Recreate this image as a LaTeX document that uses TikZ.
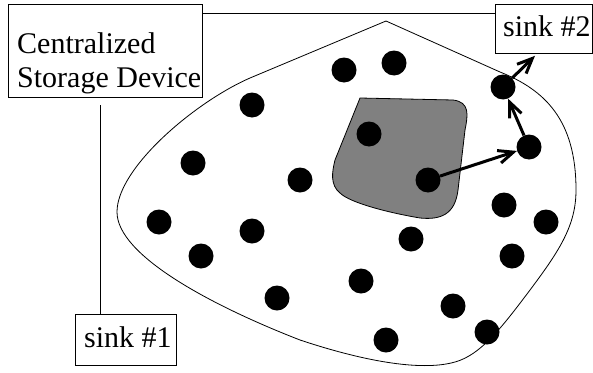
\documentclass[tikz,border=0pt]{standalone}
\usepackage{fontspec}
\setmainfont{Liberation Serif}
\newfontfamily\timesfont{Liberation Serif}
\usetikzlibrary{arrows.meta,calc}
\begin{document}
\begin{tikzpicture}[x=1pt,y=-1pt,
  dot/.style={circle,fill=black,minimum size=25pt,inner sep=0pt},
  boxnode/.style={draw,line width=0.8pt,inner sep=0pt,anchor=north west},
  lbl/.style={font=\timesfont\fontsize{30}{34}\selectfont,inner sep=0pt,anchor=base west},
  flow/.style={line width=3pt,-{Straight Barb[length=15pt,width=13pt,line width=3pt]}},
  wire/.style={line width=1pt}]
\useasboundingbox (0,0) rectangle (593,372);
% region outline
\draw[line width=0.8pt] (386,21) -- (250,78) .. controls (195,102) and (117,168) .. (117,212)
  .. controls (117,255) and (210,305) .. (300,340)
  .. controls (360,360) and (420,372) .. (455,362)
  .. controls (480,355) and (500,330) .. (530,290)
  .. controls (560,250) and (576,225) .. (576,190)
  .. controls (576,120) and (545,90) .. (500,72) -- cycle;
% gray area
\draw[line width=0.8pt,fill={rgb,255:red,128;green,128;blue,128}]
  (360,98) -- (453,100) .. controls (470,102) and (468,115) .. (465,130)
  -- (458,190) .. controls (455,215) and (440,220) .. (420,218)
  .. controls (390,213) and (350,203) .. (340,193)
  .. controls (330,185) and (332,172) .. (335,160) -- cycle;
% boxes
\node[boxnode,minimum width=194pt,minimum height=93pt] (cs) at (8,4) {};
\node[lbl] (cs1) at (17,53) {Centralized};
\node[lbl] (cs2) at (17,87) {Storage Device};
\node[boxnode,minimum width=97pt,minimum height=49pt] (sink2) at (495,4) {};
\node[lbl] (s2) at (503,36) {sink \#2};
\node[boxnode,minimum width=101pt,minimum height=51pt] (sink1) at (75,314) {};
\node[lbl] (s1) at (84,347) {sink \#1};
% wires
\draw[wire] ([yshift=-9pt]cs.north east) -- ([yshift=-9pt]cs.north east -| sink2.west);
\coordinate (v) at (100,105);
\draw[wire] (v) -- (v |- sink1.north);
% dots
\foreach \n/\x/\y in {1/252/105,2/193/163,3/300/180,4/344/70,5/394/63,6/369/134,7/428/180,
  8/503/87,9/529/147,10/159/222,11/201/256,12/252/231,13/277/298,14/504/205,15/546/222,
  16/512/256,17/411/239,18/361/281,19/453/306,20/487/332,21/386/340}
  \node[dot] (d\n) at (\x,\y) {};
% flows
\draw[flow] (d7) -- (d9);
\draw[flow] (d9) -- (d8);
\draw[flow] (d8) -- ($(sink2.south west)+(40,2)$);
\end{tikzpicture}
\end{document}
